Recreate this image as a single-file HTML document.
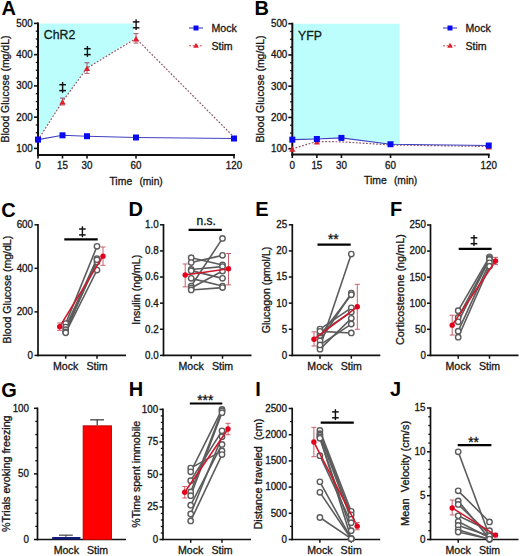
<!DOCTYPE html>
<html><head><meta charset="utf-8"><style>
html,body{margin:0;padding:0;background:#fff;}
svg{display:block;}
text{font-family:"Liberation Sans", sans-serif;}
</style></head><body>
<svg width="520" height="556" viewBox="0 0 520 556">
<rect width="520" height="556" fill="#fff"/>
<text x="1.60" y="15.30" font-size="20" text-anchor="start" font-weight="bold" fill="#000" stroke="#000" stroke-width="0">A</text>
<polygon points="38.00,23.40 133.55,23.40 133.55,38.40 87.00,68.09 62.50,101.53 38.00,138.09" fill="#bbfefc" stroke="none"/>
<line x1="38.00" y1="22.40" x2="38.00" y2="156.00" stroke="#111" stroke-width="2" stroke-linecap="butt"/>
<line x1="37.00" y1="155.00" x2="235.00" y2="155.00" stroke="#111" stroke-width="2" stroke-linecap="butt"/>
<line x1="34.00" y1="148.40" x2="38.00" y2="148.40" stroke="#111" stroke-width="1.6" stroke-linecap="butt"/>
<text x="0" y="0" font-size="9.8" text-anchor="end" fill="#161616" stroke="#161616" stroke-width="0.3" transform="translate(32.70 151.75) scale(1 1.1)">100</text>
<line x1="34.00" y1="117.15" x2="38.00" y2="117.15" stroke="#111" stroke-width="1.6" stroke-linecap="butt"/>
<text x="0" y="0" font-size="9.8" text-anchor="end" fill="#161616" stroke="#161616" stroke-width="0.3" transform="translate(32.70 120.50) scale(1 1.1)">200</text>
<line x1="34.00" y1="85.90" x2="38.00" y2="85.90" stroke="#111" stroke-width="1.6" stroke-linecap="butt"/>
<text x="0" y="0" font-size="9.8" text-anchor="end" fill="#161616" stroke="#161616" stroke-width="0.3" transform="translate(32.70 89.25) scale(1 1.1)">300</text>
<line x1="34.00" y1="54.65" x2="38.00" y2="54.65" stroke="#111" stroke-width="1.6" stroke-linecap="butt"/>
<text x="0" y="0" font-size="9.8" text-anchor="end" fill="#161616" stroke="#161616" stroke-width="0.3" transform="translate(32.70 58.00) scale(1 1.1)">400</text>
<line x1="34.00" y1="23.40" x2="38.00" y2="23.40" stroke="#111" stroke-width="1.6" stroke-linecap="butt"/>
<text x="0" y="0" font-size="9.8" text-anchor="end" fill="#161616" stroke="#161616" stroke-width="0.3" transform="translate(32.70 26.75) scale(1 1.1)">500</text>
<line x1="35.80" y1="140.59" x2="38.00" y2="140.59" stroke="#111" stroke-width="1.3" stroke-linecap="butt"/>
<line x1="35.80" y1="132.78" x2="38.00" y2="132.78" stroke="#111" stroke-width="1.3" stroke-linecap="butt"/>
<line x1="35.80" y1="124.96" x2="38.00" y2="124.96" stroke="#111" stroke-width="1.3" stroke-linecap="butt"/>
<line x1="35.80" y1="109.34" x2="38.00" y2="109.34" stroke="#111" stroke-width="1.3" stroke-linecap="butt"/>
<line x1="35.80" y1="101.53" x2="38.00" y2="101.53" stroke="#111" stroke-width="1.3" stroke-linecap="butt"/>
<line x1="35.80" y1="93.71" x2="38.00" y2="93.71" stroke="#111" stroke-width="1.3" stroke-linecap="butt"/>
<line x1="35.80" y1="78.09" x2="38.00" y2="78.09" stroke="#111" stroke-width="1.3" stroke-linecap="butt"/>
<line x1="35.80" y1="70.28" x2="38.00" y2="70.28" stroke="#111" stroke-width="1.3" stroke-linecap="butt"/>
<line x1="35.80" y1="62.46" x2="38.00" y2="62.46" stroke="#111" stroke-width="1.3" stroke-linecap="butt"/>
<line x1="35.80" y1="46.84" x2="38.00" y2="46.84" stroke="#111" stroke-width="1.3" stroke-linecap="butt"/>
<line x1="35.80" y1="39.02" x2="38.00" y2="39.02" stroke="#111" stroke-width="1.3" stroke-linecap="butt"/>
<line x1="35.80" y1="31.21" x2="38.00" y2="31.21" stroke="#111" stroke-width="1.3" stroke-linecap="butt"/>
<line x1="38.00" y1="155.00" x2="38.00" y2="158.50" stroke="#111" stroke-width="1.6" stroke-linecap="butt"/>
<text x="0" y="0" font-size="9.8" text-anchor="middle" fill="#161616" stroke="#161616" stroke-width="0.3" transform="translate(38.00 169.00) scale(1 1.1)">0</text>
<line x1="62.50" y1="155.00" x2="62.50" y2="158.50" stroke="#111" stroke-width="1.6" stroke-linecap="butt"/>
<text x="0" y="0" font-size="9.8" text-anchor="middle" fill="#161616" stroke="#161616" stroke-width="0.3" transform="translate(62.50 169.00) scale(1 1.1)">15</text>
<line x1="87.00" y1="155.00" x2="87.00" y2="158.50" stroke="#111" stroke-width="1.6" stroke-linecap="butt"/>
<text x="0" y="0" font-size="9.8" text-anchor="middle" fill="#161616" stroke="#161616" stroke-width="0.3" transform="translate(87.00 169.00) scale(1 1.1)">30</text>
<line x1="136.00" y1="155.00" x2="136.00" y2="158.50" stroke="#111" stroke-width="1.6" stroke-linecap="butt"/>
<text x="0" y="0" font-size="9.8" text-anchor="middle" fill="#161616" stroke="#161616" stroke-width="0.3" transform="translate(136.00 169.00) scale(1 1.1)">60</text>
<line x1="234.00" y1="155.00" x2="234.00" y2="158.50" stroke="#111" stroke-width="1.6" stroke-linecap="butt"/>
<text x="0" y="0" font-size="9.8" text-anchor="middle" fill="#161616" stroke="#161616" stroke-width="0.3" transform="translate(234.00 169.00) scale(1 1.1)">120</text>
<text x="109.40" y="184.60" font-size="10.6" text-anchor="start" font-weight="normal" fill="#161616" stroke="#161616" stroke-width="0.3" textLength="22.8" lengthAdjust="spacingAndGlyphs">Time</text>
<text x="139.40" y="184.60" font-size="10.6" text-anchor="start" font-weight="normal" fill="#161616" stroke="#161616" stroke-width="0.3" textLength="23.4" lengthAdjust="spacingAndGlyphs">(min)</text>
<text x="9.20" y="89.05" font-size="10.6" text-anchor="middle" fill="#161616" stroke="#161616" stroke-width="0.3" transform="rotate(-90 9.20 89.05)" textLength="107" lengthAdjust="spacingAndGlyphs">Blood Glucose (mg/dL)</text>
<text x="43.80" y="39.20" font-size="12.3" text-anchor="start" font-weight="normal" fill="#0d2020" stroke="#0d2020" stroke-width="0.3">ChR2</text>
<polyline points="38.00,139.96 62.50,101.53 87.00,68.09 136.00,38.40 234.00,137.15" fill="none" stroke="#8c5864" stroke-width="1.2" stroke-dasharray="1.8,1.6"/>
<polyline points="38.00,139.59 62.50,135.31 87.00,136.21 136.00,137.49 234.00,138.49" fill="none" stroke="#4040c0" stroke-width="1.1"/>
<line x1="62.50" y1="98.09" x2="62.50" y2="104.96" stroke="#a86070" stroke-width="1" stroke-linecap="butt"/>
<line x1="60.00" y1="98.09" x2="65.00" y2="98.09" stroke="#905868" stroke-width="1.1" stroke-linecap="butt"/>
<line x1="60.00" y1="104.96" x2="65.00" y2="104.96" stroke="#a86070" stroke-width="1" stroke-linecap="butt"/>
<polygon points="62.50,98.98 65.60,104.56 59.40,104.56" fill="#e0202c"/>
<line x1="87.00" y1="62.77" x2="87.00" y2="73.40" stroke="#a86070" stroke-width="1" stroke-linecap="butt"/>
<line x1="84.50" y1="62.77" x2="89.50" y2="62.77" stroke="#905868" stroke-width="1.1" stroke-linecap="butt"/>
<line x1="84.50" y1="73.40" x2="89.50" y2="73.40" stroke="#a86070" stroke-width="1" stroke-linecap="butt"/>
<polygon points="87.00,65.54 90.10,71.12 83.90,71.12" fill="#e0202c"/>
<line x1="136.00" y1="33.71" x2="136.00" y2="43.09" stroke="#a86070" stroke-width="1" stroke-linecap="butt"/>
<line x1="133.50" y1="33.71" x2="138.50" y2="33.71" stroke="#905868" stroke-width="1.1" stroke-linecap="butt"/>
<line x1="133.50" y1="43.09" x2="138.50" y2="43.09" stroke="#a86070" stroke-width="1" stroke-linecap="butt"/>
<polygon points="136.00,35.85 139.10,41.43 132.90,41.43" fill="#e0202c"/>
<rect x="35.00" y="136.59" width="6.00" height="6.00" fill="#0a0af0" stroke="none" stroke-width="0"/>
<rect x="59.50" y="132.31" width="6.00" height="6.00" fill="#0a0af0" stroke="none" stroke-width="0"/>
<rect x="84.00" y="133.21" width="6.00" height="6.00" fill="#0a0af0" stroke="none" stroke-width="0"/>
<rect x="133.00" y="134.49" width="6.00" height="6.00" fill="#0a0af0" stroke="none" stroke-width="0"/>
<rect x="231.00" y="135.49" width="6.00" height="6.00" fill="#0a0af0" stroke="none" stroke-width="0"/>
<line x1="189.00" y1="28.00" x2="203.00" y2="28.00" stroke="#4040c0" stroke-width="1.1" stroke-linecap="butt"/>
<rect x="193.50" y="25.50" width="5.00" height="5.00" fill="#0a0af0" stroke="none" stroke-width="0"/>
<text x="211.50" y="31.70" font-size="10.6" text-anchor="start" font-weight="normal" fill="#161616" stroke="#161616" stroke-width="0.3">Mock</text>
<line x1="189.00" y1="45.80" x2="203.00" y2="45.80" stroke="#d8444c" stroke-width="1" stroke-linecap="butt" stroke-dasharray="2,1.6"/>
<polygon points="196.00,42.83 198.75,47.78 193.25,47.78" fill="#e0202c"/>
<text x="211.50" y="49.50" font-size="10.6" text-anchor="start" font-weight="normal" fill="#161616" stroke="#161616" stroke-width="0.3">Stim</text>
<line x1="62.60" y1="82.00" x2="62.60" y2="92.90" stroke="#111" stroke-width="1.4" stroke-linecap="butt"/>
<line x1="59.30" y1="84.70" x2="65.90" y2="84.70" stroke="#111" stroke-width="1.5" stroke-linecap="butt"/>
<line x1="59.30" y1="90.60" x2="65.90" y2="90.60" stroke="#111" stroke-width="1.5" stroke-linecap="butt"/>
<line x1="87.40" y1="46.00" x2="87.40" y2="56.90" stroke="#111" stroke-width="1.4" stroke-linecap="butt"/>
<line x1="84.10" y1="48.70" x2="90.70" y2="48.70" stroke="#111" stroke-width="1.5" stroke-linecap="butt"/>
<line x1="84.10" y1="54.60" x2="90.70" y2="54.60" stroke="#111" stroke-width="1.5" stroke-linecap="butt"/>
<line x1="136.10" y1="19.20" x2="136.10" y2="30.10" stroke="#111" stroke-width="1.4" stroke-linecap="butt"/>
<line x1="132.80" y1="21.90" x2="139.40" y2="21.90" stroke="#111" stroke-width="1.5" stroke-linecap="butt"/>
<line x1="132.80" y1="27.80" x2="139.40" y2="27.80" stroke="#111" stroke-width="1.5" stroke-linecap="butt"/>
<text x="254.60" y="15.30" font-size="20" text-anchor="start" font-weight="bold" fill="#000" stroke="#000" stroke-width="0">B</text>
<polygon points="292.30,23.70 399.53,23.70 399.53,144.39 390.52,144.26 341.41,137.89 316.86,139.01 292.30,139.64" fill="#bbfefc" stroke="none"/>
<line x1="292.30" y1="22.70" x2="292.30" y2="155.50" stroke="#111" stroke-width="2" stroke-linecap="butt"/>
<line x1="291.30" y1="154.50" x2="489.75" y2="154.50" stroke="#111" stroke-width="2" stroke-linecap="butt"/>
<line x1="288.30" y1="148.70" x2="292.30" y2="148.70" stroke="#111" stroke-width="1.6" stroke-linecap="butt"/>
<text x="0" y="0" font-size="9.8" text-anchor="end" fill="#161616" stroke="#161616" stroke-width="0.3" transform="translate(287.30 152.05) scale(1 1.1)">100</text>
<line x1="288.30" y1="117.45" x2="292.30" y2="117.45" stroke="#111" stroke-width="1.6" stroke-linecap="butt"/>
<text x="0" y="0" font-size="9.8" text-anchor="end" fill="#161616" stroke="#161616" stroke-width="0.3" transform="translate(287.30 120.80) scale(1 1.1)">200</text>
<line x1="288.30" y1="86.20" x2="292.30" y2="86.20" stroke="#111" stroke-width="1.6" stroke-linecap="butt"/>
<text x="0" y="0" font-size="9.8" text-anchor="end" fill="#161616" stroke="#161616" stroke-width="0.3" transform="translate(287.30 89.55) scale(1 1.1)">300</text>
<line x1="288.30" y1="54.95" x2="292.30" y2="54.95" stroke="#111" stroke-width="1.6" stroke-linecap="butt"/>
<text x="0" y="0" font-size="9.8" text-anchor="end" fill="#161616" stroke="#161616" stroke-width="0.3" transform="translate(287.30 58.30) scale(1 1.1)">400</text>
<line x1="288.30" y1="23.70" x2="292.30" y2="23.70" stroke="#111" stroke-width="1.6" stroke-linecap="butt"/>
<text x="0" y="0" font-size="9.8" text-anchor="end" fill="#161616" stroke="#161616" stroke-width="0.3" transform="translate(287.30 27.05) scale(1 1.1)">500</text>
<line x1="290.10" y1="140.89" x2="292.30" y2="140.89" stroke="#111" stroke-width="1.3" stroke-linecap="butt"/>
<line x1="290.10" y1="133.07" x2="292.30" y2="133.07" stroke="#111" stroke-width="1.3" stroke-linecap="butt"/>
<line x1="290.10" y1="125.26" x2="292.30" y2="125.26" stroke="#111" stroke-width="1.3" stroke-linecap="butt"/>
<line x1="290.10" y1="109.64" x2="292.30" y2="109.64" stroke="#111" stroke-width="1.3" stroke-linecap="butt"/>
<line x1="290.10" y1="101.83" x2="292.30" y2="101.83" stroke="#111" stroke-width="1.3" stroke-linecap="butt"/>
<line x1="290.10" y1="94.01" x2="292.30" y2="94.01" stroke="#111" stroke-width="1.3" stroke-linecap="butt"/>
<line x1="290.10" y1="78.39" x2="292.30" y2="78.39" stroke="#111" stroke-width="1.3" stroke-linecap="butt"/>
<line x1="290.10" y1="70.58" x2="292.30" y2="70.58" stroke="#111" stroke-width="1.3" stroke-linecap="butt"/>
<line x1="290.10" y1="62.76" x2="292.30" y2="62.76" stroke="#111" stroke-width="1.3" stroke-linecap="butt"/>
<line x1="290.10" y1="47.14" x2="292.30" y2="47.14" stroke="#111" stroke-width="1.3" stroke-linecap="butt"/>
<line x1="290.10" y1="39.33" x2="292.30" y2="39.33" stroke="#111" stroke-width="1.3" stroke-linecap="butt"/>
<line x1="290.10" y1="31.51" x2="292.30" y2="31.51" stroke="#111" stroke-width="1.3" stroke-linecap="butt"/>
<line x1="292.30" y1="154.50" x2="292.30" y2="158.00" stroke="#111" stroke-width="1.6" stroke-linecap="butt"/>
<text x="0" y="0" font-size="9.8" text-anchor="middle" fill="#161616" stroke="#161616" stroke-width="0.3" transform="translate(292.30 168.50) scale(1 1.1)">0</text>
<line x1="316.86" y1="154.50" x2="316.86" y2="158.00" stroke="#111" stroke-width="1.6" stroke-linecap="butt"/>
<text x="0" y="0" font-size="9.8" text-anchor="middle" fill="#161616" stroke="#161616" stroke-width="0.3" transform="translate(316.86 168.50) scale(1 1.1)">15</text>
<line x1="341.41" y1="154.50" x2="341.41" y2="158.00" stroke="#111" stroke-width="1.6" stroke-linecap="butt"/>
<text x="0" y="0" font-size="9.8" text-anchor="middle" fill="#161616" stroke="#161616" stroke-width="0.3" transform="translate(341.41 168.50) scale(1 1.1)">30</text>
<line x1="390.52" y1="154.50" x2="390.52" y2="158.00" stroke="#111" stroke-width="1.6" stroke-linecap="butt"/>
<text x="0" y="0" font-size="9.8" text-anchor="middle" fill="#161616" stroke="#161616" stroke-width="0.3" transform="translate(390.52 168.50) scale(1 1.1)">60</text>
<line x1="488.75" y1="154.50" x2="488.75" y2="158.00" stroke="#111" stroke-width="1.6" stroke-linecap="butt"/>
<text x="0" y="0" font-size="9.8" text-anchor="middle" fill="#161616" stroke="#161616" stroke-width="0.3" transform="translate(488.75 168.50) scale(1 1.1)">120</text>
<text x="363.92" y="184.10" font-size="10.6" text-anchor="start" font-weight="normal" fill="#161616" stroke="#161616" stroke-width="0.3" textLength="22.8" lengthAdjust="spacingAndGlyphs">Time</text>
<text x="393.92" y="184.10" font-size="10.6" text-anchor="start" font-weight="normal" fill="#161616" stroke="#161616" stroke-width="0.3" textLength="23.4" lengthAdjust="spacingAndGlyphs">(min)</text>
<text x="263.80" y="89.05" font-size="10.6" text-anchor="middle" fill="#161616" stroke="#161616" stroke-width="0.3" transform="rotate(-90 263.80 89.05)" textLength="107" lengthAdjust="spacingAndGlyphs">Blood Glucose (mg/dL)</text>
<text x="298.10" y="39.50" font-size="12.3" text-anchor="start" font-weight="normal" fill="#0d2020" stroke="#0d2020" stroke-width="0.3">YFP</text>
<polyline points="292.30,148.79 316.86,141.51 341.41,141.82 390.52,144.95 488.75,146.51" fill="none" stroke="#8c5864" stroke-width="1.2" stroke-dasharray="1.8,1.6"/>
<polyline points="292.30,139.64 316.86,139.01 341.41,137.89 390.52,144.26 488.75,145.51" fill="none" stroke="#4040c0" stroke-width="1.1"/>
<polygon points="292.30,146.25 295.40,151.83 289.20,151.83" fill="#e0202c"/>
<polygon points="316.86,138.96 319.96,144.54 313.76,144.54" fill="#e0202c"/>
<polygon points="488.75,143.96 491.85,149.54 485.65,149.54" fill="#e0202c"/>
<rect x="289.30" y="136.64" width="6.00" height="6.00" fill="#0a0af0" stroke="none" stroke-width="0"/>
<rect x="313.86" y="136.01" width="6.00" height="6.00" fill="#0a0af0" stroke="none" stroke-width="0"/>
<rect x="338.41" y="134.89" width="6.00" height="6.00" fill="#0a0af0" stroke="none" stroke-width="0"/>
<rect x="387.52" y="141.26" width="6.00" height="6.00" fill="#0a0af0" stroke="none" stroke-width="0"/>
<rect x="485.75" y="142.51" width="6.00" height="6.00" fill="#0a0af0" stroke="none" stroke-width="0"/>
<line x1="443.00" y1="28.00" x2="457.00" y2="28.00" stroke="#4040c0" stroke-width="1.1" stroke-linecap="butt"/>
<rect x="447.50" y="25.50" width="5.00" height="5.00" fill="#0a0af0" stroke="none" stroke-width="0"/>
<text x="465.50" y="31.70" font-size="10.6" text-anchor="start" font-weight="normal" fill="#161616" stroke="#161616" stroke-width="0.3">Mock</text>
<line x1="443.00" y1="45.80" x2="457.00" y2="45.80" stroke="#d8444c" stroke-width="1" stroke-linecap="butt" stroke-dasharray="2,1.6"/>
<polygon points="450.00,42.83 452.75,47.78 447.25,47.78" fill="#e0202c"/>
<text x="465.50" y="49.50" font-size="10.6" text-anchor="start" font-weight="normal" fill="#161616" stroke="#161616" stroke-width="0.3">Stim</text>
<line x1="38.00" y1="224.00" x2="38.00" y2="356.20" stroke="#111" stroke-width="1.7" stroke-linecap="butt"/>
<line x1="37.20" y1="355.40" x2="126.00" y2="355.40" stroke="#111" stroke-width="1.7" stroke-linecap="butt"/>
<line x1="34.50" y1="355.40" x2="38.00" y2="355.40" stroke="#111" stroke-width="1.5" stroke-linecap="butt"/>
<text x="0" y="0" font-size="9.8" text-anchor="end" fill="#161616" stroke="#161616" stroke-width="0.3" transform="translate(33.00 358.75) scale(1 1.1)">0</text>
<line x1="34.50" y1="311.87" x2="38.00" y2="311.87" stroke="#111" stroke-width="1.5" stroke-linecap="butt"/>
<text x="0" y="0" font-size="9.8" text-anchor="end" fill="#161616" stroke="#161616" stroke-width="0.3" transform="translate(33.00 315.22) scale(1 1.1)">200</text>
<line x1="34.50" y1="268.33" x2="38.00" y2="268.33" stroke="#111" stroke-width="1.5" stroke-linecap="butt"/>
<text x="0" y="0" font-size="9.8" text-anchor="end" fill="#161616" stroke="#161616" stroke-width="0.3" transform="translate(33.00 271.68) scale(1 1.1)">400</text>
<line x1="34.50" y1="224.80" x2="38.00" y2="224.80" stroke="#111" stroke-width="1.5" stroke-linecap="butt"/>
<text x="0" y="0" font-size="9.8" text-anchor="end" fill="#161616" stroke="#161616" stroke-width="0.3" transform="translate(33.00 228.15) scale(1 1.1)">600</text>
<line x1="65.70" y1="355.40" x2="65.70" y2="358.70" stroke="#111" stroke-width="1.5" stroke-linecap="butt"/>
<line x1="97.00" y1="355.40" x2="97.00" y2="358.70" stroke="#111" stroke-width="1.5" stroke-linecap="butt"/>
<text x="65.70" y="370.00" font-size="10.6" text-anchor="middle" font-weight="normal" fill="#161616" stroke="#161616" stroke-width="0.3">Mock</text>
<text x="97.00" y="370.00" font-size="10.6" text-anchor="middle" font-weight="normal" fill="#161616" stroke="#161616" stroke-width="0.3">Stim</text>
<line x1="65.70" y1="323.62" x2="97.00" y2="246.35" stroke="#5c5c5c" stroke-width="1.6" stroke-linecap="butt"/>
<line x1="65.70" y1="327.10" x2="97.00" y2="258.54" stroke="#5c5c5c" stroke-width="1.6" stroke-linecap="butt"/>
<line x1="65.70" y1="329.72" x2="97.00" y2="262.02" stroke="#5c5c5c" stroke-width="1.6" stroke-linecap="butt"/>
<line x1="65.70" y1="331.89" x2="97.00" y2="259.63" stroke="#5c5c5c" stroke-width="1.6" stroke-linecap="butt"/>
<line x1="65.70" y1="332.76" x2="97.00" y2="270.07" stroke="#5c5c5c" stroke-width="1.6" stroke-linecap="butt"/>
<circle cx="65.70" cy="323.62" r="2.7" fill="white" stroke="#5c5c5c" stroke-width="1.4"/>
<circle cx="97.00" cy="246.35" r="2.7" fill="white" stroke="#5c5c5c" stroke-width="1.4"/>
<circle cx="65.70" cy="327.10" r="2.7" fill="white" stroke="#5c5c5c" stroke-width="1.4"/>
<circle cx="97.00" cy="258.54" r="2.7" fill="white" stroke="#5c5c5c" stroke-width="1.4"/>
<circle cx="65.70" cy="329.72" r="2.7" fill="white" stroke="#5c5c5c" stroke-width="1.4"/>
<circle cx="97.00" cy="262.02" r="2.7" fill="white" stroke="#5c5c5c" stroke-width="1.4"/>
<circle cx="65.70" cy="331.89" r="2.7" fill="white" stroke="#5c5c5c" stroke-width="1.4"/>
<circle cx="97.00" cy="259.63" r="2.7" fill="white" stroke="#5c5c5c" stroke-width="1.4"/>
<circle cx="65.70" cy="332.76" r="2.7" fill="white" stroke="#5c5c5c" stroke-width="1.4"/>
<circle cx="97.00" cy="270.07" r="2.7" fill="white" stroke="#5c5c5c" stroke-width="1.4"/>
<line x1="59.70" y1="326.67" x2="103.00" y2="256.14" stroke="#d0182c" stroke-width="1.6" stroke-linecap="butt"/>
<line x1="59.70" y1="330.37" x2="59.70" y2="322.97" stroke="#c8606c" stroke-width="1" stroke-linecap="butt"/>
<line x1="57.20" y1="330.37" x2="62.20" y2="330.37" stroke="#c8606c" stroke-width="1" stroke-linecap="butt"/>
<line x1="57.20" y1="322.97" x2="62.20" y2="322.97" stroke="#c8606c" stroke-width="1" stroke-linecap="butt"/>
<circle cx="59.70" cy="326.67" r="2.7" fill="#e4001c" stroke="none" stroke-width="0"/>
<line x1="103.00" y1="265.29" x2="103.00" y2="247.00" stroke="#c8606c" stroke-width="1" stroke-linecap="butt"/>
<line x1="100.50" y1="265.29" x2="105.50" y2="265.29" stroke="#c8606c" stroke-width="1" stroke-linecap="butt"/>
<line x1="100.50" y1="247.00" x2="105.50" y2="247.00" stroke="#c8606c" stroke-width="1" stroke-linecap="butt"/>
<circle cx="103.00" cy="256.14" r="2.7" fill="#e4001c" stroke="none" stroke-width="0"/>
<line x1="64.30" y1="239.40" x2="97.70" y2="239.40" stroke="#000" stroke-width="2.1" stroke-linecap="butt"/>
<text x="11.20" y="289.65" font-size="10.6" text-anchor="middle" fill="#161616" stroke="#161616" stroke-width="0.3" transform="rotate(-90 11.20 289.65)" textLength="107.7" lengthAdjust="spacingAndGlyphs">Blood Glucose (mg/dL)</text>
<text x="1.20" y="216.60" font-size="20" text-anchor="start" font-weight="bold" fill="#000" stroke="#000" stroke-width="0">C</text>
<line x1="82.40" y1="226.30" x2="82.40" y2="237.20" stroke="#111" stroke-width="1.4" stroke-linecap="butt"/>
<line x1="79.10" y1="229.00" x2="85.70" y2="229.00" stroke="#111" stroke-width="1.5" stroke-linecap="butt"/>
<line x1="79.10" y1="234.90" x2="85.70" y2="234.90" stroke="#111" stroke-width="1.5" stroke-linecap="butt"/>
<line x1="163.50" y1="224.00" x2="163.50" y2="356.20" stroke="#111" stroke-width="1.7" stroke-linecap="butt"/>
<line x1="162.70" y1="355.40" x2="251.50" y2="355.40" stroke="#111" stroke-width="1.7" stroke-linecap="butt"/>
<line x1="160.00" y1="355.40" x2="163.50" y2="355.40" stroke="#111" stroke-width="1.5" stroke-linecap="butt"/>
<text x="0" y="0" font-size="9.8" text-anchor="end" fill="#161616" stroke="#161616" stroke-width="0.3" transform="translate(158.70 358.75) scale(1 1.1)">0.0</text>
<line x1="160.00" y1="329.28" x2="163.50" y2="329.28" stroke="#111" stroke-width="1.5" stroke-linecap="butt"/>
<text x="0" y="0" font-size="9.8" text-anchor="end" fill="#161616" stroke="#161616" stroke-width="0.3" transform="translate(158.70 332.63) scale(1 1.1)">0.2</text>
<line x1="160.00" y1="303.16" x2="163.50" y2="303.16" stroke="#111" stroke-width="1.5" stroke-linecap="butt"/>
<text x="0" y="0" font-size="9.8" text-anchor="end" fill="#161616" stroke="#161616" stroke-width="0.3" transform="translate(158.70 306.51) scale(1 1.1)">0.4</text>
<line x1="160.00" y1="277.04" x2="163.50" y2="277.04" stroke="#111" stroke-width="1.5" stroke-linecap="butt"/>
<text x="0" y="0" font-size="9.8" text-anchor="end" fill="#161616" stroke="#161616" stroke-width="0.3" transform="translate(158.70 280.39) scale(1 1.1)">0.6</text>
<line x1="160.00" y1="250.92" x2="163.50" y2="250.92" stroke="#111" stroke-width="1.5" stroke-linecap="butt"/>
<text x="0" y="0" font-size="9.8" text-anchor="end" fill="#161616" stroke="#161616" stroke-width="0.3" transform="translate(158.70 254.27) scale(1 1.1)">0.8</text>
<line x1="160.00" y1="224.80" x2="163.50" y2="224.80" stroke="#111" stroke-width="1.5" stroke-linecap="butt"/>
<text x="0" y="0" font-size="9.8" text-anchor="end" fill="#161616" stroke="#161616" stroke-width="0.3" transform="translate(158.70 228.15) scale(1 1.1)">1.0</text>
<line x1="191.20" y1="355.40" x2="191.20" y2="358.70" stroke="#111" stroke-width="1.5" stroke-linecap="butt"/>
<line x1="222.50" y1="355.40" x2="222.50" y2="358.70" stroke="#111" stroke-width="1.5" stroke-linecap="butt"/>
<text x="191.20" y="370.00" font-size="10.6" text-anchor="middle" font-weight="normal" fill="#161616" stroke="#161616" stroke-width="0.3">Mock</text>
<text x="222.50" y="370.00" font-size="10.6" text-anchor="middle" font-weight="normal" fill="#161616" stroke="#161616" stroke-width="0.3">Stim</text>
<line x1="191.20" y1="257.71" x2="222.50" y2="265.02" stroke="#5c5c5c" stroke-width="1.6" stroke-linecap="butt"/>
<line x1="191.20" y1="262.54" x2="222.50" y2="255.36" stroke="#5c5c5c" stroke-width="1.6" stroke-linecap="butt"/>
<line x1="191.20" y1="269.47" x2="222.50" y2="266.59" stroke="#5c5c5c" stroke-width="1.6" stroke-linecap="butt"/>
<line x1="191.20" y1="270.64" x2="222.50" y2="278.35" stroke="#5c5c5c" stroke-width="1.6" stroke-linecap="butt"/>
<line x1="191.20" y1="278.35" x2="222.50" y2="286.05" stroke="#5c5c5c" stroke-width="1.6" stroke-linecap="butt"/>
<line x1="191.20" y1="286.05" x2="222.50" y2="238.38" stroke="#5c5c5c" stroke-width="1.6" stroke-linecap="butt"/>
<line x1="191.20" y1="288.01" x2="222.50" y2="271.03" stroke="#5c5c5c" stroke-width="1.6" stroke-linecap="butt"/>
<line x1="191.20" y1="289.97" x2="222.50" y2="287.62" stroke="#5c5c5c" stroke-width="1.6" stroke-linecap="butt"/>
<circle cx="191.20" cy="257.71" r="2.7" fill="white" stroke="#5c5c5c" stroke-width="1.4"/>
<circle cx="222.50" cy="265.02" r="2.7" fill="white" stroke="#5c5c5c" stroke-width="1.4"/>
<circle cx="191.20" cy="262.54" r="2.7" fill="white" stroke="#5c5c5c" stroke-width="1.4"/>
<circle cx="222.50" cy="255.36" r="2.7" fill="white" stroke="#5c5c5c" stroke-width="1.4"/>
<circle cx="191.20" cy="269.47" r="2.7" fill="white" stroke="#5c5c5c" stroke-width="1.4"/>
<circle cx="222.50" cy="266.59" r="2.7" fill="white" stroke="#5c5c5c" stroke-width="1.4"/>
<circle cx="191.20" cy="270.64" r="2.7" fill="white" stroke="#5c5c5c" stroke-width="1.4"/>
<circle cx="222.50" cy="278.35" r="2.7" fill="white" stroke="#5c5c5c" stroke-width="1.4"/>
<circle cx="191.20" cy="278.35" r="2.7" fill="white" stroke="#5c5c5c" stroke-width="1.4"/>
<circle cx="222.50" cy="286.05" r="2.7" fill="white" stroke="#5c5c5c" stroke-width="1.4"/>
<circle cx="191.20" cy="286.05" r="2.7" fill="white" stroke="#5c5c5c" stroke-width="1.4"/>
<circle cx="222.50" cy="238.38" r="2.7" fill="white" stroke="#5c5c5c" stroke-width="1.4"/>
<circle cx="191.20" cy="288.01" r="2.7" fill="white" stroke="#5c5c5c" stroke-width="1.4"/>
<circle cx="222.50" cy="271.03" r="2.7" fill="white" stroke="#5c5c5c" stroke-width="1.4"/>
<circle cx="191.20" cy="289.97" r="2.7" fill="white" stroke="#5c5c5c" stroke-width="1.4"/>
<circle cx="222.50" cy="287.62" r="2.7" fill="white" stroke="#5c5c5c" stroke-width="1.4"/>
<line x1="185.20" y1="274.95" x2="228.50" y2="268.81" stroke="#d0182c" stroke-width="1.6" stroke-linecap="butt"/>
<line x1="185.20" y1="286.83" x2="185.20" y2="263.98" stroke="#c8606c" stroke-width="1" stroke-linecap="butt"/>
<line x1="182.70" y1="286.83" x2="187.70" y2="286.83" stroke="#c8606c" stroke-width="1" stroke-linecap="butt"/>
<line x1="182.70" y1="263.98" x2="187.70" y2="263.98" stroke="#c8606c" stroke-width="1" stroke-linecap="butt"/>
<circle cx="185.20" cy="274.95" r="2.7" fill="#e4001c" stroke="none" stroke-width="0"/>
<line x1="228.50" y1="284.88" x2="228.50" y2="253.53" stroke="#c8606c" stroke-width="1" stroke-linecap="butt"/>
<line x1="226.00" y1="284.88" x2="231.00" y2="284.88" stroke="#c8606c" stroke-width="1" stroke-linecap="butt"/>
<line x1="226.00" y1="253.53" x2="231.00" y2="253.53" stroke="#c8606c" stroke-width="1" stroke-linecap="butt"/>
<circle cx="228.50" cy="268.81" r="2.7" fill="#e4001c" stroke="none" stroke-width="0"/>
<line x1="188.60" y1="229.90" x2="221.80" y2="229.90" stroke="#000" stroke-width="2.1" stroke-linecap="butt"/>
<text x="139.80" y="289.80" font-size="10.6" text-anchor="middle" fill="#161616" stroke="#161616" stroke-width="0.3" transform="rotate(-90 139.80 289.80)" textLength="70" lengthAdjust="spacingAndGlyphs">Insulin (ng/mL)</text>
<text x="128.60" y="216.40" font-size="20" text-anchor="start" font-weight="bold" fill="#000" stroke="#000" stroke-width="0">D</text>
<text x="206.20" y="224.60" font-size="12" text-anchor="middle" font-weight="normal" fill="#111" stroke="#111" stroke-width="0.3">n.s.</text>
<line x1="292.30" y1="224.00" x2="292.30" y2="356.20" stroke="#111" stroke-width="1.7" stroke-linecap="butt"/>
<line x1="291.50" y1="355.40" x2="380.30" y2="355.40" stroke="#111" stroke-width="1.7" stroke-linecap="butt"/>
<line x1="288.80" y1="355.40" x2="292.30" y2="355.40" stroke="#111" stroke-width="1.5" stroke-linecap="butt"/>
<text x="0" y="0" font-size="9.8" text-anchor="end" fill="#161616" stroke="#161616" stroke-width="0.3" transform="translate(287.10 358.75) scale(1 1.1)">0</text>
<line x1="288.80" y1="329.28" x2="292.30" y2="329.28" stroke="#111" stroke-width="1.5" stroke-linecap="butt"/>
<text x="0" y="0" font-size="9.8" text-anchor="end" fill="#161616" stroke="#161616" stroke-width="0.3" transform="translate(287.10 332.63) scale(1 1.1)">5</text>
<line x1="288.80" y1="303.16" x2="292.30" y2="303.16" stroke="#111" stroke-width="1.5" stroke-linecap="butt"/>
<text x="0" y="0" font-size="9.8" text-anchor="end" fill="#161616" stroke="#161616" stroke-width="0.3" transform="translate(287.10 306.51) scale(1 1.1)">10</text>
<line x1="288.80" y1="277.04" x2="292.30" y2="277.04" stroke="#111" stroke-width="1.5" stroke-linecap="butt"/>
<text x="0" y="0" font-size="9.8" text-anchor="end" fill="#161616" stroke="#161616" stroke-width="0.3" transform="translate(287.10 280.39) scale(1 1.1)">15</text>
<line x1="288.80" y1="250.92" x2="292.30" y2="250.92" stroke="#111" stroke-width="1.5" stroke-linecap="butt"/>
<text x="0" y="0" font-size="9.8" text-anchor="end" fill="#161616" stroke="#161616" stroke-width="0.3" transform="translate(287.10 254.27) scale(1 1.1)">20</text>
<line x1="288.80" y1="224.80" x2="292.30" y2="224.80" stroke="#111" stroke-width="1.5" stroke-linecap="butt"/>
<text x="0" y="0" font-size="9.8" text-anchor="end" fill="#161616" stroke="#161616" stroke-width="0.3" transform="translate(287.10 228.15) scale(1 1.1)">25</text>
<line x1="320.00" y1="355.40" x2="320.00" y2="358.70" stroke="#111" stroke-width="1.5" stroke-linecap="butt"/>
<line x1="351.30" y1="355.40" x2="351.30" y2="358.70" stroke="#111" stroke-width="1.5" stroke-linecap="butt"/>
<text x="320.00" y="370.00" font-size="10.6" text-anchor="middle" font-weight="normal" fill="#161616" stroke="#161616" stroke-width="0.3">Mock</text>
<text x="351.30" y="370.00" font-size="10.6" text-anchor="middle" font-weight="normal" fill="#161616" stroke="#161616" stroke-width="0.3">Stim</text>
<line x1="320.00" y1="347.04" x2="351.30" y2="254.05" stroke="#5c5c5c" stroke-width="1.6" stroke-linecap="butt"/>
<line x1="320.00" y1="340.77" x2="351.30" y2="293.23" stroke="#5c5c5c" stroke-width="1.6" stroke-linecap="butt"/>
<line x1="320.00" y1="335.55" x2="351.30" y2="294.80" stroke="#5c5c5c" stroke-width="1.6" stroke-linecap="butt"/>
<line x1="320.00" y1="329.07" x2="351.30" y2="307.86" stroke="#5c5c5c" stroke-width="1.6" stroke-linecap="butt"/>
<line x1="320.00" y1="332.94" x2="351.30" y2="312.04" stroke="#5c5c5c" stroke-width="1.6" stroke-linecap="butt"/>
<line x1="320.00" y1="349.13" x2="351.30" y2="318.31" stroke="#5c5c5c" stroke-width="1.6" stroke-linecap="butt"/>
<line x1="320.00" y1="344.95" x2="351.30" y2="324.06" stroke="#5c5c5c" stroke-width="1.6" stroke-linecap="butt"/>
<line x1="320.00" y1="331.37" x2="351.30" y2="332.94" stroke="#5c5c5c" stroke-width="1.6" stroke-linecap="butt"/>
<circle cx="320.00" cy="347.04" r="2.7" fill="white" stroke="#5c5c5c" stroke-width="1.4"/>
<circle cx="351.30" cy="254.05" r="2.7" fill="white" stroke="#5c5c5c" stroke-width="1.4"/>
<circle cx="320.00" cy="340.77" r="2.7" fill="white" stroke="#5c5c5c" stroke-width="1.4"/>
<circle cx="351.30" cy="293.23" r="2.7" fill="white" stroke="#5c5c5c" stroke-width="1.4"/>
<circle cx="320.00" cy="335.55" r="2.7" fill="white" stroke="#5c5c5c" stroke-width="1.4"/>
<circle cx="351.30" cy="294.80" r="2.7" fill="white" stroke="#5c5c5c" stroke-width="1.4"/>
<circle cx="320.00" cy="329.07" r="2.7" fill="white" stroke="#5c5c5c" stroke-width="1.4"/>
<circle cx="351.30" cy="307.86" r="2.7" fill="white" stroke="#5c5c5c" stroke-width="1.4"/>
<circle cx="320.00" cy="332.94" r="2.7" fill="white" stroke="#5c5c5c" stroke-width="1.4"/>
<circle cx="351.30" cy="312.04" r="2.7" fill="white" stroke="#5c5c5c" stroke-width="1.4"/>
<circle cx="320.00" cy="349.13" r="2.7" fill="white" stroke="#5c5c5c" stroke-width="1.4"/>
<circle cx="351.30" cy="318.31" r="2.7" fill="white" stroke="#5c5c5c" stroke-width="1.4"/>
<circle cx="320.00" cy="344.95" r="2.7" fill="white" stroke="#5c5c5c" stroke-width="1.4"/>
<circle cx="351.30" cy="324.06" r="2.7" fill="white" stroke="#5c5c5c" stroke-width="1.4"/>
<circle cx="320.00" cy="331.37" r="2.7" fill="white" stroke="#5c5c5c" stroke-width="1.4"/>
<circle cx="351.30" cy="332.94" r="2.7" fill="white" stroke="#5c5c5c" stroke-width="1.4"/>
<line x1="314.00" y1="339.21" x2="357.30" y2="306.82" stroke="#d0182c" stroke-width="1.6" stroke-linecap="butt"/>
<line x1="314.00" y1="346.00" x2="314.00" y2="331.89" stroke="#c8606c" stroke-width="1" stroke-linecap="butt"/>
<line x1="311.50" y1="346.00" x2="316.50" y2="346.00" stroke="#c8606c" stroke-width="1" stroke-linecap="butt"/>
<line x1="311.50" y1="331.89" x2="316.50" y2="331.89" stroke="#c8606c" stroke-width="1" stroke-linecap="butt"/>
<circle cx="314.00" cy="339.21" r="2.7" fill="#e4001c" stroke="none" stroke-width="0"/>
<line x1="357.30" y1="329.28" x2="357.30" y2="284.35" stroke="#c8606c" stroke-width="1" stroke-linecap="butt"/>
<line x1="354.80" y1="329.28" x2="359.80" y2="329.28" stroke="#c8606c" stroke-width="1" stroke-linecap="butt"/>
<line x1="354.80" y1="284.35" x2="359.80" y2="284.35" stroke="#c8606c" stroke-width="1" stroke-linecap="butt"/>
<circle cx="357.30" cy="306.82" r="2.7" fill="#e4001c" stroke="none" stroke-width="0"/>
<line x1="317.50" y1="244.60" x2="350.70" y2="244.60" stroke="#000" stroke-width="2.1" stroke-linecap="butt"/>
<text x="270.40" y="290.00" font-size="10.6" text-anchor="middle" fill="#161616" stroke="#161616" stroke-width="0.3" transform="rotate(-90 270.40 290.00)" textLength="86.5" lengthAdjust="spacingAndGlyphs">Glucagon (pmol/L)</text>
<text x="255.30" y="216.20" font-size="20" text-anchor="start" font-weight="bold" fill="#000" stroke="#000" stroke-width="0">E</text>
<text x="333.30" y="243.60" font-size="13.8" text-anchor="middle" font-weight="normal" fill="#111" stroke="#111" stroke-width="0.3">**</text>
<line x1="430.50" y1="224.20" x2="430.50" y2="356.20" stroke="#111" stroke-width="1.7" stroke-linecap="butt"/>
<line x1="429.70" y1="355.40" x2="518.50" y2="355.40" stroke="#111" stroke-width="1.7" stroke-linecap="butt"/>
<line x1="427.00" y1="355.40" x2="430.50" y2="355.40" stroke="#111" stroke-width="1.5" stroke-linecap="butt"/>
<text x="0" y="0" font-size="9.8" text-anchor="end" fill="#161616" stroke="#161616" stroke-width="0.3" transform="translate(425.90 358.75) scale(1 1.1)">0</text>
<line x1="427.00" y1="329.32" x2="430.50" y2="329.32" stroke="#111" stroke-width="1.5" stroke-linecap="butt"/>
<text x="0" y="0" font-size="9.8" text-anchor="end" fill="#161616" stroke="#161616" stroke-width="0.3" transform="translate(425.90 332.67) scale(1 1.1)">50</text>
<line x1="427.00" y1="303.24" x2="430.50" y2="303.24" stroke="#111" stroke-width="1.5" stroke-linecap="butt"/>
<text x="0" y="0" font-size="9.8" text-anchor="end" fill="#161616" stroke="#161616" stroke-width="0.3" transform="translate(425.90 306.59) scale(1 1.1)">100</text>
<line x1="427.00" y1="277.16" x2="430.50" y2="277.16" stroke="#111" stroke-width="1.5" stroke-linecap="butt"/>
<text x="0" y="0" font-size="9.8" text-anchor="end" fill="#161616" stroke="#161616" stroke-width="0.3" transform="translate(425.90 280.51) scale(1 1.1)">150</text>
<line x1="427.00" y1="251.08" x2="430.50" y2="251.08" stroke="#111" stroke-width="1.5" stroke-linecap="butt"/>
<text x="0" y="0" font-size="9.8" text-anchor="end" fill="#161616" stroke="#161616" stroke-width="0.3" transform="translate(425.90 254.43) scale(1 1.1)">200</text>
<line x1="427.00" y1="225.00" x2="430.50" y2="225.00" stroke="#111" stroke-width="1.5" stroke-linecap="butt"/>
<text x="0" y="0" font-size="9.8" text-anchor="end" fill="#161616" stroke="#161616" stroke-width="0.3" transform="translate(425.90 228.35) scale(1 1.1)">250</text>
<line x1="458.20" y1="355.40" x2="458.20" y2="358.70" stroke="#111" stroke-width="1.5" stroke-linecap="butt"/>
<line x1="489.50" y1="355.40" x2="489.50" y2="358.70" stroke="#111" stroke-width="1.5" stroke-linecap="butt"/>
<text x="458.20" y="370.00" font-size="10.6" text-anchor="middle" font-weight="normal" fill="#161616" stroke="#161616" stroke-width="0.3">Mock</text>
<text x="489.50" y="370.00" font-size="10.6" text-anchor="middle" font-weight="normal" fill="#161616" stroke="#161616" stroke-width="0.3">Stim</text>
<line x1="458.20" y1="310.70" x2="489.50" y2="256.82" stroke="#5c5c5c" stroke-width="1.6" stroke-linecap="butt"/>
<line x1="458.20" y1="317.48" x2="489.50" y2="258.38" stroke="#5c5c5c" stroke-width="1.6" stroke-linecap="butt"/>
<line x1="458.20" y1="321.81" x2="489.50" y2="259.43" stroke="#5c5c5c" stroke-width="1.6" stroke-linecap="butt"/>
<line x1="458.20" y1="331.20" x2="489.50" y2="262.82" stroke="#5c5c5c" stroke-width="1.6" stroke-linecap="butt"/>
<line x1="458.20" y1="337.20" x2="489.50" y2="266.21" stroke="#5c5c5c" stroke-width="1.6" stroke-linecap="butt"/>
<circle cx="458.20" cy="310.70" r="2.7" fill="white" stroke="#5c5c5c" stroke-width="1.4"/>
<circle cx="489.50" cy="256.82" r="2.7" fill="white" stroke="#5c5c5c" stroke-width="1.4"/>
<circle cx="458.20" cy="317.48" r="2.7" fill="white" stroke="#5c5c5c" stroke-width="1.4"/>
<circle cx="489.50" cy="258.38" r="2.7" fill="white" stroke="#5c5c5c" stroke-width="1.4"/>
<circle cx="458.20" cy="321.81" r="2.7" fill="white" stroke="#5c5c5c" stroke-width="1.4"/>
<circle cx="489.50" cy="259.43" r="2.7" fill="white" stroke="#5c5c5c" stroke-width="1.4"/>
<circle cx="458.20" cy="331.20" r="2.7" fill="white" stroke="#5c5c5c" stroke-width="1.4"/>
<circle cx="489.50" cy="262.82" r="2.7" fill="white" stroke="#5c5c5c" stroke-width="1.4"/>
<circle cx="458.20" cy="337.20" r="2.7" fill="white" stroke="#5c5c5c" stroke-width="1.4"/>
<circle cx="489.50" cy="266.21" r="2.7" fill="white" stroke="#5c5c5c" stroke-width="1.4"/>
<line x1="452.20" y1="325.15" x2="495.50" y2="260.99" stroke="#d0182c" stroke-width="1.6" stroke-linecap="butt"/>
<line x1="452.20" y1="335.06" x2="452.20" y2="315.24" stroke="#c8606c" stroke-width="1" stroke-linecap="butt"/>
<line x1="449.70" y1="335.06" x2="454.70" y2="335.06" stroke="#c8606c" stroke-width="1" stroke-linecap="butt"/>
<line x1="449.70" y1="315.24" x2="454.70" y2="315.24" stroke="#c8606c" stroke-width="1" stroke-linecap="butt"/>
<circle cx="452.20" cy="325.15" r="2.7" fill="#e4001c" stroke="none" stroke-width="0"/>
<line x1="495.50" y1="264.64" x2="495.50" y2="257.34" stroke="#c8606c" stroke-width="1" stroke-linecap="butt"/>
<line x1="493.00" y1="264.64" x2="498.00" y2="264.64" stroke="#c8606c" stroke-width="1" stroke-linecap="butt"/>
<line x1="493.00" y1="257.34" x2="498.00" y2="257.34" stroke="#c8606c" stroke-width="1" stroke-linecap="butt"/>
<circle cx="495.50" cy="260.99" r="2.7" fill="#e4001c" stroke="none" stroke-width="0"/>
<line x1="458.70" y1="248.90" x2="491.60" y2="248.90" stroke="#000" stroke-width="2.1" stroke-linecap="butt"/>
<text x="404.00" y="289.60" font-size="10.6" text-anchor="middle" fill="#161616" stroke="#161616" stroke-width="0.3" transform="rotate(-90 404.00 289.60)" textLength="110.8" lengthAdjust="spacingAndGlyphs">Corticosterone (ng/mL)</text>
<text x="390.00" y="216.20" font-size="20" text-anchor="start" font-weight="bold" fill="#000" stroke="#000" stroke-width="0">F</text>
<line x1="474.00" y1="235.10" x2="474.00" y2="246.00" stroke="#111" stroke-width="1.4" stroke-linecap="butt"/>
<line x1="470.70" y1="237.80" x2="477.30" y2="237.80" stroke="#111" stroke-width="1.5" stroke-linecap="butt"/>
<line x1="470.70" y1="243.70" x2="477.30" y2="243.70" stroke="#111" stroke-width="1.5" stroke-linecap="butt"/>
<text x="1.20" y="396.80" font-size="20" text-anchor="start" font-weight="bold" fill="#000" stroke="#000" stroke-width="0">G</text>
<line x1="37.50" y1="407.50" x2="37.50" y2="540.30" stroke="#111" stroke-width="1.7" stroke-linecap="butt"/>
<line x1="36.70" y1="539.50" x2="126.00" y2="539.50" stroke="#111" stroke-width="1.7" stroke-linecap="butt"/>
<line x1="34.00" y1="539.50" x2="37.50" y2="539.50" stroke="#111" stroke-width="1.5" stroke-linecap="butt"/>
<text x="0" y="0" font-size="9.8" text-anchor="end" fill="#161616" stroke="#161616" stroke-width="0.3" transform="translate(29.00 542.85) scale(1 1.1)">0</text>
<line x1="34.00" y1="473.90" x2="37.50" y2="473.90" stroke="#111" stroke-width="1.5" stroke-linecap="butt"/>
<text x="0" y="0" font-size="9.8" text-anchor="end" fill="#161616" stroke="#161616" stroke-width="0.3" transform="translate(29.00 477.25) scale(1 1.1)">50</text>
<line x1="34.00" y1="408.30" x2="37.50" y2="408.30" stroke="#111" stroke-width="1.5" stroke-linecap="butt"/>
<text x="0" y="0" font-size="9.8" text-anchor="end" fill="#161616" stroke="#161616" stroke-width="0.3" transform="translate(29.00 411.65) scale(1 1.1)">100</text>
<line x1="35.30" y1="526.38" x2="37.50" y2="526.38" stroke="#111" stroke-width="1.3" stroke-linecap="butt"/>
<line x1="35.30" y1="513.26" x2="37.50" y2="513.26" stroke="#111" stroke-width="1.3" stroke-linecap="butt"/>
<line x1="35.30" y1="500.14" x2="37.50" y2="500.14" stroke="#111" stroke-width="1.3" stroke-linecap="butt"/>
<line x1="35.30" y1="487.02" x2="37.50" y2="487.02" stroke="#111" stroke-width="1.3" stroke-linecap="butt"/>
<line x1="35.30" y1="460.78" x2="37.50" y2="460.78" stroke="#111" stroke-width="1.3" stroke-linecap="butt"/>
<line x1="35.30" y1="447.66" x2="37.50" y2="447.66" stroke="#111" stroke-width="1.3" stroke-linecap="butt"/>
<line x1="35.30" y1="434.54" x2="37.50" y2="434.54" stroke="#111" stroke-width="1.3" stroke-linecap="butt"/>
<line x1="35.30" y1="421.42" x2="37.50" y2="421.42" stroke="#111" stroke-width="1.3" stroke-linecap="butt"/>
<rect x="52.20" y="537.01" width="28.20" height="2.49" fill="#141a7a" stroke="none" stroke-width="0"/>
<line x1="65.90" y1="537.01" x2="65.90" y2="535.17" stroke="#444" stroke-width="1" stroke-linecap="butt"/>
<line x1="59.00" y1="535.17" x2="72.80" y2="535.17" stroke="#444" stroke-width="1.2" stroke-linecap="butt"/>
<rect x="83.20" y="425.88" width="28.20" height="113.62" fill="#fe0000" stroke="#b80000" stroke-width="1"/>
<line x1="97.20" y1="425.36" x2="97.20" y2="419.85" stroke="#333" stroke-width="1.2" stroke-linecap="butt"/>
<line x1="90.20" y1="419.85" x2="104.00" y2="419.85" stroke="#333" stroke-width="1.2" stroke-linecap="butt"/>
<text x="66.30" y="554.10" font-size="10.6" text-anchor="middle" font-weight="normal" fill="#161616" stroke="#161616" stroke-width="0.3">Mock</text>
<text x="97.50" y="554.10" font-size="10.6" text-anchor="middle" font-weight="normal" fill="#161616" stroke="#161616" stroke-width="0.3">Stim</text>
<text x="10.50" y="473.70" font-size="10.6" text-anchor="middle" fill="#161616" stroke="#161616" stroke-width="0.3" transform="rotate(-90 10.50 473.70)" textLength="116.6" lengthAdjust="spacingAndGlyphs">%Trials evoking freezing</text>
<line x1="163.00" y1="408.60" x2="163.00" y2="540.30" stroke="#111" stroke-width="1.7" stroke-linecap="butt"/>
<line x1="162.20" y1="539.50" x2="251.00" y2="539.50" stroke="#111" stroke-width="1.7" stroke-linecap="butt"/>
<line x1="159.50" y1="539.50" x2="163.00" y2="539.50" stroke="#111" stroke-width="1.5" stroke-linecap="butt"/>
<text x="0" y="0" font-size="9.8" text-anchor="end" fill="#161616" stroke="#161616" stroke-width="0.3" transform="translate(158.20 542.85) scale(1 1.1)">0</text>
<line x1="159.50" y1="506.98" x2="163.00" y2="506.98" stroke="#111" stroke-width="1.5" stroke-linecap="butt"/>
<text x="0" y="0" font-size="9.8" text-anchor="end" fill="#161616" stroke="#161616" stroke-width="0.3" transform="translate(158.20 510.33) scale(1 1.1)">25</text>
<line x1="159.50" y1="474.45" x2="163.00" y2="474.45" stroke="#111" stroke-width="1.5" stroke-linecap="butt"/>
<text x="0" y="0" font-size="9.8" text-anchor="end" fill="#161616" stroke="#161616" stroke-width="0.3" transform="translate(158.20 477.80) scale(1 1.1)">50</text>
<line x1="159.50" y1="441.92" x2="163.00" y2="441.92" stroke="#111" stroke-width="1.5" stroke-linecap="butt"/>
<text x="0" y="0" font-size="9.8" text-anchor="end" fill="#161616" stroke="#161616" stroke-width="0.3" transform="translate(158.20 445.27) scale(1 1.1)">75</text>
<line x1="159.50" y1="409.40" x2="163.00" y2="409.40" stroke="#111" stroke-width="1.5" stroke-linecap="butt"/>
<text x="0" y="0" font-size="9.8" text-anchor="end" fill="#161616" stroke="#161616" stroke-width="0.3" transform="translate(158.20 412.75) scale(1 1.1)">100</text>
<line x1="160.80" y1="533.00" x2="163.00" y2="533.00" stroke="#111" stroke-width="1.3" stroke-linecap="butt"/>
<line x1="160.80" y1="526.49" x2="163.00" y2="526.49" stroke="#111" stroke-width="1.3" stroke-linecap="butt"/>
<line x1="160.80" y1="519.99" x2="163.00" y2="519.99" stroke="#111" stroke-width="1.3" stroke-linecap="butt"/>
<line x1="160.80" y1="513.48" x2="163.00" y2="513.48" stroke="#111" stroke-width="1.3" stroke-linecap="butt"/>
<line x1="160.80" y1="500.47" x2="163.00" y2="500.47" stroke="#111" stroke-width="1.3" stroke-linecap="butt"/>
<line x1="160.80" y1="493.96" x2="163.00" y2="493.96" stroke="#111" stroke-width="1.3" stroke-linecap="butt"/>
<line x1="160.80" y1="487.46" x2="163.00" y2="487.46" stroke="#111" stroke-width="1.3" stroke-linecap="butt"/>
<line x1="160.80" y1="480.95" x2="163.00" y2="480.95" stroke="#111" stroke-width="1.3" stroke-linecap="butt"/>
<line x1="160.80" y1="467.94" x2="163.00" y2="467.94" stroke="#111" stroke-width="1.3" stroke-linecap="butt"/>
<line x1="160.80" y1="461.44" x2="163.00" y2="461.44" stroke="#111" stroke-width="1.3" stroke-linecap="butt"/>
<line x1="160.80" y1="454.94" x2="163.00" y2="454.94" stroke="#111" stroke-width="1.3" stroke-linecap="butt"/>
<line x1="160.80" y1="448.43" x2="163.00" y2="448.43" stroke="#111" stroke-width="1.3" stroke-linecap="butt"/>
<line x1="160.80" y1="435.42" x2="163.00" y2="435.42" stroke="#111" stroke-width="1.3" stroke-linecap="butt"/>
<line x1="160.80" y1="428.91" x2="163.00" y2="428.91" stroke="#111" stroke-width="1.3" stroke-linecap="butt"/>
<line x1="160.80" y1="422.41" x2="163.00" y2="422.41" stroke="#111" stroke-width="1.3" stroke-linecap="butt"/>
<line x1="160.80" y1="415.90" x2="163.00" y2="415.90" stroke="#111" stroke-width="1.3" stroke-linecap="butt"/>
<line x1="190.70" y1="539.50" x2="190.70" y2="542.80" stroke="#111" stroke-width="1.5" stroke-linecap="butt"/>
<line x1="222.00" y1="539.50" x2="222.00" y2="542.80" stroke="#111" stroke-width="1.5" stroke-linecap="butt"/>
<text x="190.70" y="554.10" font-size="10.6" text-anchor="middle" font-weight="normal" fill="#161616" stroke="#161616" stroke-width="0.3">Mock</text>
<text x="222.00" y="554.10" font-size="10.6" text-anchor="middle" font-weight="normal" fill="#161616" stroke="#161616" stroke-width="0.3">Stim</text>
<line x1="190.70" y1="468.08" x2="222.00" y2="450.90" stroke="#5c5c5c" stroke-width="1.6" stroke-linecap="butt"/>
<line x1="190.70" y1="471.85" x2="222.00" y2="409.40" stroke="#5c5c5c" stroke-width="1.6" stroke-linecap="butt"/>
<line x1="190.70" y1="480.69" x2="222.00" y2="430.87" stroke="#5c5c5c" stroke-width="1.6" stroke-linecap="butt"/>
<line x1="190.70" y1="492.01" x2="222.00" y2="410.70" stroke="#5c5c5c" stroke-width="1.6" stroke-linecap="butt"/>
<line x1="190.70" y1="495.66" x2="222.00" y2="412.65" stroke="#5c5c5c" stroke-width="1.6" stroke-linecap="butt"/>
<line x1="190.70" y1="505.15" x2="222.00" y2="444.40" stroke="#5c5c5c" stroke-width="1.6" stroke-linecap="butt"/>
<line x1="190.70" y1="514.00" x2="222.00" y2="436.72" stroke="#5c5c5c" stroke-width="1.6" stroke-linecap="butt"/>
<line x1="190.70" y1="520.90" x2="222.00" y2="454.54" stroke="#5c5c5c" stroke-width="1.6" stroke-linecap="butt"/>
<circle cx="190.70" cy="468.08" r="2.7" fill="white" stroke="#5c5c5c" stroke-width="1.4"/>
<circle cx="222.00" cy="450.90" r="2.7" fill="white" stroke="#5c5c5c" stroke-width="1.4"/>
<circle cx="190.70" cy="471.85" r="2.7" fill="white" stroke="#5c5c5c" stroke-width="1.4"/>
<circle cx="222.00" cy="409.40" r="2.7" fill="white" stroke="#5c5c5c" stroke-width="1.4"/>
<circle cx="190.70" cy="480.69" r="2.7" fill="white" stroke="#5c5c5c" stroke-width="1.4"/>
<circle cx="222.00" cy="430.87" r="2.7" fill="white" stroke="#5c5c5c" stroke-width="1.4"/>
<circle cx="190.70" cy="492.01" r="2.7" fill="white" stroke="#5c5c5c" stroke-width="1.4"/>
<circle cx="222.00" cy="410.70" r="2.7" fill="white" stroke="#5c5c5c" stroke-width="1.4"/>
<circle cx="190.70" cy="495.66" r="2.7" fill="white" stroke="#5c5c5c" stroke-width="1.4"/>
<circle cx="222.00" cy="412.65" r="2.7" fill="white" stroke="#5c5c5c" stroke-width="1.4"/>
<circle cx="190.70" cy="505.15" r="2.7" fill="white" stroke="#5c5c5c" stroke-width="1.4"/>
<circle cx="222.00" cy="444.40" r="2.7" fill="white" stroke="#5c5c5c" stroke-width="1.4"/>
<circle cx="190.70" cy="514.00" r="2.7" fill="white" stroke="#5c5c5c" stroke-width="1.4"/>
<circle cx="222.00" cy="436.72" r="2.7" fill="white" stroke="#5c5c5c" stroke-width="1.4"/>
<circle cx="190.70" cy="520.90" r="2.7" fill="white" stroke="#5c5c5c" stroke-width="1.4"/>
<circle cx="222.00" cy="454.54" r="2.7" fill="white" stroke="#5c5c5c" stroke-width="1.4"/>
<line x1="184.70" y1="492.27" x2="228.00" y2="429.05" stroke="#d0182c" stroke-width="1.6" stroke-linecap="butt"/>
<line x1="184.70" y1="498.00" x2="184.70" y2="486.55" stroke="#c8606c" stroke-width="1" stroke-linecap="butt"/>
<line x1="182.20" y1="498.00" x2="187.20" y2="498.00" stroke="#c8606c" stroke-width="1" stroke-linecap="butt"/>
<line x1="182.20" y1="486.55" x2="187.20" y2="486.55" stroke="#c8606c" stroke-width="1" stroke-linecap="butt"/>
<circle cx="184.70" cy="492.27" r="2.7" fill="#e4001c" stroke="none" stroke-width="0"/>
<line x1="228.00" y1="434.77" x2="228.00" y2="423.32" stroke="#c8606c" stroke-width="1" stroke-linecap="butt"/>
<line x1="225.50" y1="434.77" x2="230.50" y2="434.77" stroke="#c8606c" stroke-width="1" stroke-linecap="butt"/>
<line x1="225.50" y1="423.32" x2="230.50" y2="423.32" stroke="#c8606c" stroke-width="1" stroke-linecap="butt"/>
<circle cx="228.00" cy="429.05" r="2.7" fill="#e4001c" stroke="none" stroke-width="0"/>
<line x1="189.80" y1="403.50" x2="222.30" y2="403.50" stroke="#000" stroke-width="2.1" stroke-linecap="butt"/>
<text x="140.20" y="474.20" font-size="10.6" text-anchor="middle" fill="#161616" stroke="#161616" stroke-width="0.3" transform="rotate(-90 140.20 474.20)" textLength="107" lengthAdjust="spacingAndGlyphs">%Time spent immobile</text>
<text x="128.70" y="395.80" font-size="20" text-anchor="start" font-weight="bold" fill="#000" stroke="#000" stroke-width="0">H</text>
<text x="205.30" y="405.40" font-size="13.8" text-anchor="middle" font-weight="normal" fill="#111" stroke="#111" stroke-width="0.3">***</text>
<line x1="292.20" y1="407.70" x2="292.20" y2="540.30" stroke="#111" stroke-width="1.7" stroke-linecap="butt"/>
<line x1="291.40" y1="539.50" x2="380.20" y2="539.50" stroke="#111" stroke-width="1.7" stroke-linecap="butt"/>
<line x1="288.70" y1="539.50" x2="292.20" y2="539.50" stroke="#111" stroke-width="1.5" stroke-linecap="butt"/>
<text x="0" y="0" font-size="9.8" text-anchor="end" fill="#161616" stroke="#161616" stroke-width="0.3" transform="translate(287.00 542.85) scale(1 1.1)">0</text>
<line x1="288.70" y1="513.30" x2="292.20" y2="513.30" stroke="#111" stroke-width="1.5" stroke-linecap="butt"/>
<text x="0" y="0" font-size="9.8" text-anchor="end" fill="#161616" stroke="#161616" stroke-width="0.3" transform="translate(287.00 516.65) scale(1 1.1)">500</text>
<line x1="288.70" y1="487.10" x2="292.20" y2="487.10" stroke="#111" stroke-width="1.5" stroke-linecap="butt"/>
<text x="0" y="0" font-size="9.8" text-anchor="end" fill="#161616" stroke="#161616" stroke-width="0.3" transform="translate(287.00 490.45) scale(1 1.1)">1000</text>
<line x1="288.70" y1="460.90" x2="292.20" y2="460.90" stroke="#111" stroke-width="1.5" stroke-linecap="butt"/>
<text x="0" y="0" font-size="9.8" text-anchor="end" fill="#161616" stroke="#161616" stroke-width="0.3" transform="translate(287.00 464.25) scale(1 1.1)">1500</text>
<line x1="288.70" y1="434.70" x2="292.20" y2="434.70" stroke="#111" stroke-width="1.5" stroke-linecap="butt"/>
<text x="0" y="0" font-size="9.8" text-anchor="end" fill="#161616" stroke="#161616" stroke-width="0.3" transform="translate(287.00 438.05) scale(1 1.1)">2000</text>
<line x1="288.70" y1="408.50" x2="292.20" y2="408.50" stroke="#111" stroke-width="1.5" stroke-linecap="butt"/>
<text x="0" y="0" font-size="9.8" text-anchor="end" fill="#161616" stroke="#161616" stroke-width="0.3" transform="translate(287.00 411.85) scale(1 1.1)">2500</text>
<line x1="290.00" y1="526.40" x2="292.20" y2="526.40" stroke="#111" stroke-width="1.3" stroke-linecap="butt"/>
<line x1="290.00" y1="500.20" x2="292.20" y2="500.20" stroke="#111" stroke-width="1.3" stroke-linecap="butt"/>
<line x1="290.00" y1="474.00" x2="292.20" y2="474.00" stroke="#111" stroke-width="1.3" stroke-linecap="butt"/>
<line x1="290.00" y1="447.80" x2="292.20" y2="447.80" stroke="#111" stroke-width="1.3" stroke-linecap="butt"/>
<line x1="290.00" y1="421.60" x2="292.20" y2="421.60" stroke="#111" stroke-width="1.3" stroke-linecap="butt"/>
<line x1="319.90" y1="539.50" x2="319.90" y2="542.80" stroke="#111" stroke-width="1.5" stroke-linecap="butt"/>
<line x1="351.20" y1="539.50" x2="351.20" y2="542.80" stroke="#111" stroke-width="1.5" stroke-linecap="butt"/>
<text x="319.90" y="554.10" font-size="10.6" text-anchor="middle" font-weight="normal" fill="#161616" stroke="#161616" stroke-width="0.3">Mock</text>
<text x="351.20" y="554.10" font-size="10.6" text-anchor="middle" font-weight="normal" fill="#161616" stroke="#161616" stroke-width="0.3">Stim</text>
<line x1="319.90" y1="430.51" x2="351.20" y2="511.36" stroke="#5c5c5c" stroke-width="1.6" stroke-linecap="butt"/>
<line x1="319.90" y1="433.65" x2="351.20" y2="514.82" stroke="#5c5c5c" stroke-width="1.6" stroke-linecap="butt"/>
<line x1="319.90" y1="435.22" x2="351.20" y2="519.33" stroke="#5c5c5c" stroke-width="1.6" stroke-linecap="butt"/>
<line x1="319.90" y1="436.80" x2="351.20" y2="538.71" stroke="#5c5c5c" stroke-width="1.6" stroke-linecap="butt"/>
<line x1="319.90" y1="438.37" x2="351.20" y2="530.64" stroke="#5c5c5c" stroke-width="1.6" stroke-linecap="butt"/>
<line x1="319.90" y1="455.66" x2="351.20" y2="522.73" stroke="#5c5c5c" stroke-width="1.6" stroke-linecap="butt"/>
<line x1="319.90" y1="481.86" x2="351.20" y2="538.71" stroke="#5c5c5c" stroke-width="1.6" stroke-linecap="butt"/>
<line x1="319.90" y1="492.34" x2="351.20" y2="538.71" stroke="#5c5c5c" stroke-width="1.6" stroke-linecap="butt"/>
<line x1="319.90" y1="517.49" x2="351.20" y2="538.71" stroke="#5c5c5c" stroke-width="1.6" stroke-linecap="butt"/>
<circle cx="319.90" cy="430.51" r="2.7" fill="white" stroke="#5c5c5c" stroke-width="1.4"/>
<circle cx="351.20" cy="511.36" r="2.7" fill="white" stroke="#5c5c5c" stroke-width="1.4"/>
<circle cx="319.90" cy="433.65" r="2.7" fill="white" stroke="#5c5c5c" stroke-width="1.4"/>
<circle cx="351.20" cy="514.82" r="2.7" fill="white" stroke="#5c5c5c" stroke-width="1.4"/>
<circle cx="319.90" cy="435.22" r="2.7" fill="white" stroke="#5c5c5c" stroke-width="1.4"/>
<circle cx="351.20" cy="519.33" r="2.7" fill="white" stroke="#5c5c5c" stroke-width="1.4"/>
<circle cx="319.90" cy="436.80" r="2.7" fill="white" stroke="#5c5c5c" stroke-width="1.4"/>
<circle cx="351.20" cy="538.71" r="2.7" fill="white" stroke="#5c5c5c" stroke-width="1.4"/>
<circle cx="319.90" cy="438.37" r="2.7" fill="white" stroke="#5c5c5c" stroke-width="1.4"/>
<circle cx="351.20" cy="530.64" r="2.7" fill="white" stroke="#5c5c5c" stroke-width="1.4"/>
<circle cx="319.90" cy="455.66" r="2.7" fill="white" stroke="#5c5c5c" stroke-width="1.4"/>
<circle cx="351.20" cy="522.73" r="2.7" fill="white" stroke="#5c5c5c" stroke-width="1.4"/>
<circle cx="319.90" cy="481.86" r="2.7" fill="white" stroke="#5c5c5c" stroke-width="1.4"/>
<circle cx="351.20" cy="538.71" r="2.7" fill="white" stroke="#5c5c5c" stroke-width="1.4"/>
<circle cx="319.90" cy="492.34" r="2.7" fill="white" stroke="#5c5c5c" stroke-width="1.4"/>
<circle cx="351.20" cy="538.71" r="2.7" fill="white" stroke="#5c5c5c" stroke-width="1.4"/>
<circle cx="319.90" cy="517.49" r="2.7" fill="white" stroke="#5c5c5c" stroke-width="1.4"/>
<circle cx="351.20" cy="538.71" r="2.7" fill="white" stroke="#5c5c5c" stroke-width="1.4"/>
<line x1="313.90" y1="442.04" x2="357.20" y2="526.14" stroke="#d0182c" stroke-width="1.6" stroke-linecap="butt"/>
<line x1="313.90" y1="456.71" x2="313.90" y2="427.36" stroke="#c8606c" stroke-width="1" stroke-linecap="butt"/>
<line x1="311.40" y1="456.71" x2="316.40" y2="456.71" stroke="#c8606c" stroke-width="1" stroke-linecap="butt"/>
<line x1="311.40" y1="427.36" x2="316.40" y2="427.36" stroke="#c8606c" stroke-width="1" stroke-linecap="butt"/>
<circle cx="313.90" cy="442.04" r="2.7" fill="#e4001c" stroke="none" stroke-width="0"/>
<line x1="357.20" y1="529.81" x2="357.20" y2="522.47" stroke="#c8606c" stroke-width="1" stroke-linecap="butt"/>
<line x1="354.70" y1="529.81" x2="359.70" y2="529.81" stroke="#c8606c" stroke-width="1" stroke-linecap="butt"/>
<line x1="354.70" y1="522.47" x2="359.70" y2="522.47" stroke="#c8606c" stroke-width="1" stroke-linecap="butt"/>
<circle cx="357.20" cy="526.14" r="2.7" fill="#e4001c" stroke="none" stroke-width="0"/>
<line x1="320.70" y1="422.60" x2="353.80" y2="422.60" stroke="#000" stroke-width="2.1" stroke-linecap="butt"/>
<text x="261.70" y="474.10" font-size="10.6" text-anchor="middle" fill="#161616" stroke="#161616" stroke-width="0.3" transform="rotate(-90 261.70 474.10)" textLength="110.8" lengthAdjust="spacingAndGlyphs">Distance traveled&#160; (cm)</text>
<text x="255.30" y="395.80" font-size="20" text-anchor="start" font-weight="bold" fill="#000" stroke="#000" stroke-width="0">I</text>
<line x1="335.40" y1="409.20" x2="335.40" y2="420.10" stroke="#111" stroke-width="1.4" stroke-linecap="butt"/>
<line x1="332.10" y1="411.90" x2="338.70" y2="411.90" stroke="#111" stroke-width="1.5" stroke-linecap="butt"/>
<line x1="332.10" y1="417.80" x2="338.70" y2="417.80" stroke="#111" stroke-width="1.5" stroke-linecap="butt"/>
<line x1="430.50" y1="407.20" x2="430.50" y2="540.30" stroke="#111" stroke-width="1.7" stroke-linecap="butt"/>
<line x1="429.70" y1="539.50" x2="518.50" y2="539.50" stroke="#111" stroke-width="1.7" stroke-linecap="butt"/>
<line x1="427.00" y1="539.50" x2="430.50" y2="539.50" stroke="#111" stroke-width="1.5" stroke-linecap="butt"/>
<text x="0" y="0" font-size="9.8" text-anchor="end" fill="#161616" stroke="#161616" stroke-width="0.3" transform="translate(425.50 542.85) scale(1 1.1)">0</text>
<line x1="427.00" y1="495.67" x2="430.50" y2="495.67" stroke="#111" stroke-width="1.5" stroke-linecap="butt"/>
<text x="0" y="0" font-size="9.8" text-anchor="end" fill="#161616" stroke="#161616" stroke-width="0.3" transform="translate(425.50 499.02) scale(1 1.1)">5</text>
<line x1="427.00" y1="451.83" x2="430.50" y2="451.83" stroke="#111" stroke-width="1.5" stroke-linecap="butt"/>
<text x="0" y="0" font-size="9.8" text-anchor="end" fill="#161616" stroke="#161616" stroke-width="0.3" transform="translate(425.50 455.18) scale(1 1.1)">10</text>
<line x1="427.00" y1="408.00" x2="430.50" y2="408.00" stroke="#111" stroke-width="1.5" stroke-linecap="butt"/>
<text x="0" y="0" font-size="9.8" text-anchor="end" fill="#161616" stroke="#161616" stroke-width="0.3" transform="translate(425.50 411.35) scale(1 1.1)">15</text>
<line x1="428.30" y1="530.73" x2="430.50" y2="530.73" stroke="#111" stroke-width="1.3" stroke-linecap="butt"/>
<line x1="428.30" y1="521.97" x2="430.50" y2="521.97" stroke="#111" stroke-width="1.3" stroke-linecap="butt"/>
<line x1="428.30" y1="513.20" x2="430.50" y2="513.20" stroke="#111" stroke-width="1.3" stroke-linecap="butt"/>
<line x1="428.30" y1="504.43" x2="430.50" y2="504.43" stroke="#111" stroke-width="1.3" stroke-linecap="butt"/>
<line x1="428.30" y1="486.90" x2="430.50" y2="486.90" stroke="#111" stroke-width="1.3" stroke-linecap="butt"/>
<line x1="428.30" y1="478.13" x2="430.50" y2="478.13" stroke="#111" stroke-width="1.3" stroke-linecap="butt"/>
<line x1="428.30" y1="469.37" x2="430.50" y2="469.37" stroke="#111" stroke-width="1.3" stroke-linecap="butt"/>
<line x1="428.30" y1="460.60" x2="430.50" y2="460.60" stroke="#111" stroke-width="1.3" stroke-linecap="butt"/>
<line x1="428.30" y1="443.07" x2="430.50" y2="443.07" stroke="#111" stroke-width="1.3" stroke-linecap="butt"/>
<line x1="428.30" y1="434.30" x2="430.50" y2="434.30" stroke="#111" stroke-width="1.3" stroke-linecap="butt"/>
<line x1="428.30" y1="425.53" x2="430.50" y2="425.53" stroke="#111" stroke-width="1.3" stroke-linecap="butt"/>
<line x1="428.30" y1="416.77" x2="430.50" y2="416.77" stroke="#111" stroke-width="1.3" stroke-linecap="butt"/>
<line x1="458.20" y1="539.50" x2="458.20" y2="542.80" stroke="#111" stroke-width="1.5" stroke-linecap="butt"/>
<line x1="489.50" y1="539.50" x2="489.50" y2="542.80" stroke="#111" stroke-width="1.5" stroke-linecap="butt"/>
<text x="458.20" y="554.10" font-size="10.6" text-anchor="middle" font-weight="normal" fill="#161616" stroke="#161616" stroke-width="0.3">Mock</text>
<text x="489.50" y="554.10" font-size="10.6" text-anchor="middle" font-weight="normal" fill="#161616" stroke="#161616" stroke-width="0.3">Stim</text>
<line x1="458.20" y1="451.83" x2="489.50" y2="535.99" stroke="#5c5c5c" stroke-width="1.6" stroke-linecap="butt"/>
<line x1="458.20" y1="490.85" x2="489.50" y2="521.97" stroke="#5c5c5c" stroke-width="1.6" stroke-linecap="butt"/>
<line x1="458.20" y1="500.93" x2="489.50" y2="538.62" stroke="#5c5c5c" stroke-width="1.6" stroke-linecap="butt"/>
<line x1="458.20" y1="504.43" x2="489.50" y2="534.24" stroke="#5c5c5c" stroke-width="1.6" stroke-linecap="butt"/>
<line x1="458.20" y1="515.83" x2="489.50" y2="530.73" stroke="#5c5c5c" stroke-width="1.6" stroke-linecap="butt"/>
<line x1="458.20" y1="521.53" x2="489.50" y2="537.75" stroke="#5c5c5c" stroke-width="1.6" stroke-linecap="butt"/>
<line x1="458.20" y1="525.47" x2="489.50" y2="535.99" stroke="#5c5c5c" stroke-width="1.6" stroke-linecap="butt"/>
<line x1="458.20" y1="529.86" x2="489.50" y2="539.50" stroke="#5c5c5c" stroke-width="1.6" stroke-linecap="butt"/>
<line x1="458.20" y1="532.05" x2="489.50" y2="539.06" stroke="#5c5c5c" stroke-width="1.6" stroke-linecap="butt"/>
<circle cx="458.20" cy="451.83" r="2.7" fill="white" stroke="#5c5c5c" stroke-width="1.4"/>
<circle cx="489.50" cy="535.99" r="2.7" fill="white" stroke="#5c5c5c" stroke-width="1.4"/>
<circle cx="458.20" cy="490.85" r="2.7" fill="white" stroke="#5c5c5c" stroke-width="1.4"/>
<circle cx="489.50" cy="521.97" r="2.7" fill="white" stroke="#5c5c5c" stroke-width="1.4"/>
<circle cx="458.20" cy="500.93" r="2.7" fill="white" stroke="#5c5c5c" stroke-width="1.4"/>
<circle cx="489.50" cy="538.62" r="2.7" fill="white" stroke="#5c5c5c" stroke-width="1.4"/>
<circle cx="458.20" cy="504.43" r="2.7" fill="white" stroke="#5c5c5c" stroke-width="1.4"/>
<circle cx="489.50" cy="534.24" r="2.7" fill="white" stroke="#5c5c5c" stroke-width="1.4"/>
<circle cx="458.20" cy="515.83" r="2.7" fill="white" stroke="#5c5c5c" stroke-width="1.4"/>
<circle cx="489.50" cy="530.73" r="2.7" fill="white" stroke="#5c5c5c" stroke-width="1.4"/>
<circle cx="458.20" cy="521.53" r="2.7" fill="white" stroke="#5c5c5c" stroke-width="1.4"/>
<circle cx="489.50" cy="537.75" r="2.7" fill="white" stroke="#5c5c5c" stroke-width="1.4"/>
<circle cx="458.20" cy="525.47" r="2.7" fill="white" stroke="#5c5c5c" stroke-width="1.4"/>
<circle cx="489.50" cy="535.99" r="2.7" fill="white" stroke="#5c5c5c" stroke-width="1.4"/>
<circle cx="458.20" cy="529.86" r="2.7" fill="white" stroke="#5c5c5c" stroke-width="1.4"/>
<circle cx="489.50" cy="539.50" r="2.7" fill="white" stroke="#5c5c5c" stroke-width="1.4"/>
<circle cx="458.20" cy="532.05" r="2.7" fill="white" stroke="#5c5c5c" stroke-width="1.4"/>
<circle cx="489.50" cy="539.06" r="2.7" fill="white" stroke="#5c5c5c" stroke-width="1.4"/>
<line x1="452.20" y1="507.94" x2="495.50" y2="535.12" stroke="#d0182c" stroke-width="1.6" stroke-linecap="butt"/>
<line x1="452.20" y1="514.95" x2="452.20" y2="500.05" stroke="#c8606c" stroke-width="1" stroke-linecap="butt"/>
<line x1="449.70" y1="514.95" x2="454.70" y2="514.95" stroke="#c8606c" stroke-width="1" stroke-linecap="butt"/>
<line x1="449.70" y1="500.05" x2="454.70" y2="500.05" stroke="#c8606c" stroke-width="1" stroke-linecap="butt"/>
<circle cx="452.20" cy="507.94" r="2.7" fill="#e4001c" stroke="none" stroke-width="0"/>
<line x1="495.50" y1="536.87" x2="495.50" y2="533.36" stroke="#c8606c" stroke-width="1" stroke-linecap="butt"/>
<line x1="493.00" y1="536.87" x2="498.00" y2="536.87" stroke="#c8606c" stroke-width="1" stroke-linecap="butt"/>
<line x1="493.00" y1="533.36" x2="498.00" y2="533.36" stroke="#c8606c" stroke-width="1" stroke-linecap="butt"/>
<circle cx="495.50" cy="535.12" r="2.7" fill="#e4001c" stroke="none" stroke-width="0"/>
<line x1="457.70" y1="445.10" x2="491.40" y2="445.10" stroke="#000" stroke-width="2.1" stroke-linecap="butt"/>
<text x="408.70" y="473.40" font-size="10.6" text-anchor="middle" fill="#161616" stroke="#161616" stroke-width="0.3" transform="rotate(-90 408.70 473.40)" textLength="105" lengthAdjust="spacingAndGlyphs">Mean&#160; Velocity (cm/s)</text>
<text x="390.00" y="396.20" font-size="20" text-anchor="start" font-weight="bold" fill="#000" stroke="#000" stroke-width="0">J</text>
<text x="473.50" y="447.40" font-size="13.8" text-anchor="middle" font-weight="normal" fill="#111" stroke="#111" stroke-width="0.3">**</text>
</svg></body></html>
